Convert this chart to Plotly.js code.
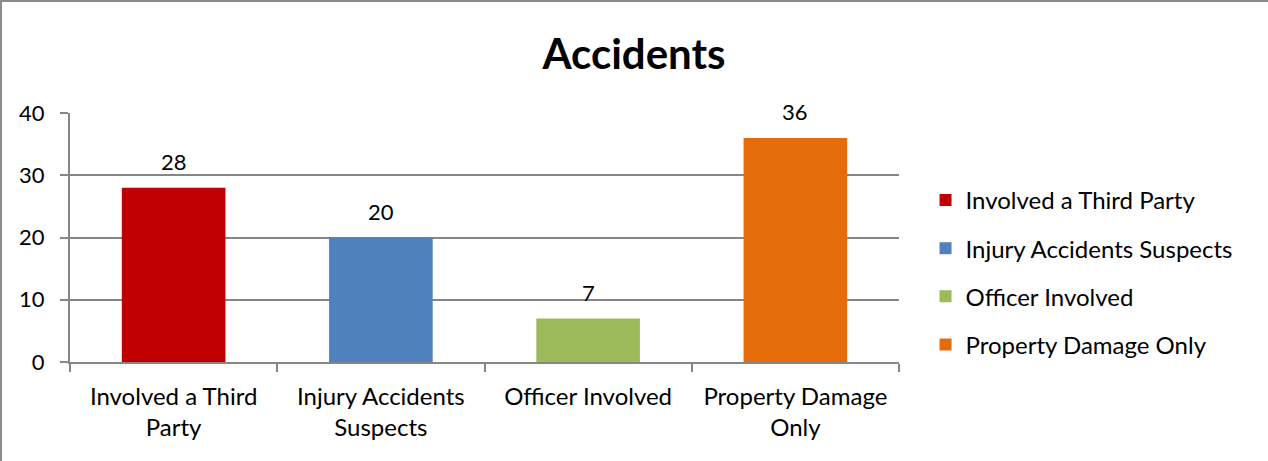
<!DOCTYPE html>
<html>
<head>
<meta charset="utf-8">
<script src="https://cdn.plot.ly/plotly-3.0.1.min.js"></script>
<style>
  html, body { margin: 0; padding: 0; background: #fff; }
  #wrap { position: relative; width: 1268px; height: 461px; box-sizing: border-box; border-left: 2px solid #8c8c8c; border-top: 2px solid #8c8c8c; }
  #chart { position: absolute; left: -2px; top: -2px; width: 1268px; height: 461px; }
</style>
</head>
<body>
<div id="wrap"><div id="chart"></div></div>
<script>
const categories = ["Involved a Third Party", "Injury Accidents Suspects", "Officer Involved", "Property Damage Only"];
const tickLabels = ["Involved a Third<br>Party", "Injury Accidents<br>Suspects", "Officer Involved", "Property Damage<br>Only"];
const values = [28, 20, 7, 36];
const colors = ["#c00000", "#4f81bd", "#9bbb59", "#e46c0a"];

const FONT = "Lato, 'Open Sans', sans-serif";

const traces = categories.map((c, i) => ({
  type: "bar",
  name: c,
  x: [tickLabels[i]],
  y: [values[i]],
  width: 0.5,
  marker: { color: colors[i] },
  legendgroup: "g" + i,
  hoverinfo: "none"
}));

const annotations = categories.map((c, i) => ({
  x: tickLabels[i],
  y: values[i],
  xref: "x", yref: "y",
  text: String(values[i]),
  showarrow: false,
  yanchor: "middle",
  yshift: 26,
  font: { size: 22, family: FONT, color: "#000" }
}));

const layout = {
  width: 1268,
  height: 461,
  margin: { l: 70, r: 369, t: 113, b: 99 },
  paper_bgcolor: "rgba(0,0,0,0)",
  plot_bgcolor: "rgba(0,0,0,0)",
  barmode: "overlay",
  font: { family: FONT, size: 22, color: "#000" },
  title: {
    text: "<b>Accidents</b>",
    font: { family: FONT, size: 42, color: "#000" },
    x: 0.5, xanchor: "center",
    y: 0.883, yanchor: "middle", yref: "container"
  },
  annotations: annotations,
  xaxis: {
    type: "category",
    categoryorder: "array",
    categoryarray: tickLabels,
    tickson: "boundaries",
    ticks: "outside",
    ticklen: 8,
    tickcolor: "#868686",
    tickwidth: 2,
    showline: true,
    linecolor: "#868686",
    linewidth: 2,
    showgrid: false,
    ticklabelstandoff: 12,
    tickfont: { size: 24, family: FONT, color: "#000" },
    fixedrange: true
  },
  yaxis: {
    range: [0, 40],
    dtick: 10,
    ticks: "outside",
    ticklen: 8,
    tickcolor: "#868686",
    tickwidth: 2,
    showline: true,
    linecolor: "#868686",
    linewidth: 2,
    gridcolor: "#868686",
    gridwidth: 2,
    zeroline: false,
    ticklabelstandoff: 11,
    tickfont: { size: 22, family: FONT, color: "#000" },
    fixedrange: true
  },
  showlegend: true,
  legend: {
    x: 1.032, xanchor: "left",
    y: 0.36, yanchor: "middle",
    font: { size: 24, family: FONT, color: "#000" },
    tracegroupgap: 14,
    itemwidth: 30,
    bgcolor: "rgba(0,0,0,0)"
  }
};

Plotly.newPlot("chart", traces, layout, { displayModeBar: false, staticPlot: true });
</script>
</body>
</html>
